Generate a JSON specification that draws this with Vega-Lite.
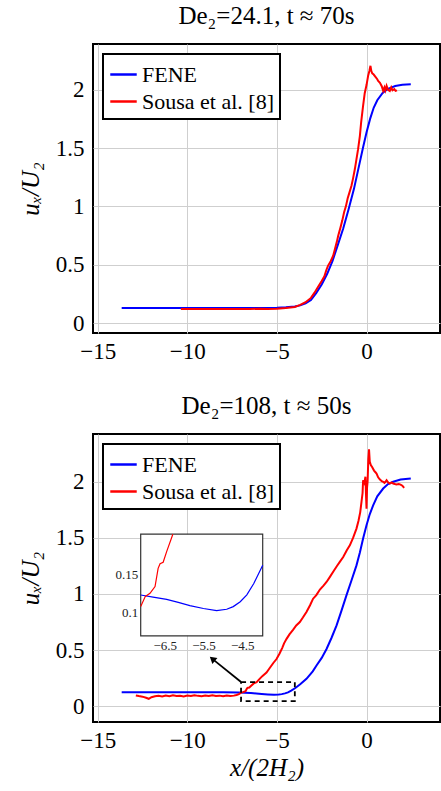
{
  "$schema": "https://vega.github.io/schema/vega-lite/v6.json",
  "background": "white",
  "padding": {"left": 17, "top": 3, "right": 0, "bottom": 0},
  "datasets": {
    "top": [
      {"x": -13.66, "y": 0.128, "series": "FENE"},
      {"x": -12, "y": 0.128, "series": "FENE"},
      {"x": -10, "y": 0.128, "series": "FENE"},
      {"x": -8, "y": 0.128, "series": "FENE"},
      {"x": -6, "y": 0.129, "series": "FENE"},
      {"x": -5, "y": 0.131, "series": "FENE"},
      {"x": -4.5, "y": 0.135, "series": "FENE"},
      {"x": -4, "y": 0.142, "series": "FENE"},
      {"x": -3.7, "y": 0.151, "series": "FENE"},
      {"x": -3.4, "y": 0.168, "series": "FENE"},
      {"x": -3.1, "y": 0.197, "series": "FENE"},
      {"x": -2.8, "y": 0.258, "series": "FENE"},
      {"x": -2.5, "y": 0.33, "series": "FENE"},
      {"x": -2.2, "y": 0.42, "series": "FENE"},
      {"x": -1.9, "y": 0.53, "series": "FENE"},
      {"x": -1.6, "y": 0.67, "series": "FENE"},
      {"x": -1.3, "y": 0.81, "series": "FENE"},
      {"x": -1.0, "y": 0.975, "series": "FENE"},
      {"x": -0.7, "y": 1.15, "series": "FENE"},
      {"x": -0.4, "y": 1.36, "series": "FENE"},
      {"x": -0.2, "y": 1.5, "series": "FENE"},
      {"x": 0, "y": 1.634, "series": "FENE"},
      {"x": 0.2, "y": 1.75, "series": "FENE"},
      {"x": 0.4, "y": 1.845, "series": "FENE"},
      {"x": 0.6, "y": 1.91, "series": "FENE"},
      {"x": 0.9, "y": 1.973, "series": "FENE"},
      {"x": 1.2, "y": 2.008, "series": "FENE"},
      {"x": 1.6, "y": 2.032, "series": "FENE"},
      {"x": 2.0, "y": 2.042, "series": "FENE"},
      {"x": 2.47, "y": 2.046, "series": "FENE"},
      {"x": -10.36, "y": 0.12, "series": "Sousa et al. [8]"},
      {"x": -10, "y": 0.121, "series": "Sousa et al. [8]"},
      {"x": -9.5, "y": 0.119, "series": "Sousa et al. [8]"},
      {"x": -9, "y": 0.12, "series": "Sousa et al. [8]"},
      {"x": -8.5, "y": 0.121, "series": "Sousa et al. [8]"},
      {"x": -8, "y": 0.119, "series": "Sousa et al. [8]"},
      {"x": -7.5, "y": 0.12, "series": "Sousa et al. [8]"},
      {"x": -7, "y": 0.121, "series": "Sousa et al. [8]"},
      {"x": -6.5, "y": 0.12, "series": "Sousa et al. [8]"},
      {"x": -6, "y": 0.122, "series": "Sousa et al. [8]"},
      {"x": -5.5, "y": 0.121, "series": "Sousa et al. [8]"},
      {"x": -5, "y": 0.123, "series": "Sousa et al. [8]"},
      {"x": -4.5, "y": 0.128, "series": "Sousa et al. [8]"},
      {"x": -4, "y": 0.138, "series": "Sousa et al. [8]"},
      {"x": -3.7, "y": 0.155, "series": "Sousa et al. [8]"},
      {"x": -3.4, "y": 0.178, "series": "Sousa et al. [8]"},
      {"x": -3.1, "y": 0.215, "series": "Sousa et al. [8]"},
      {"x": -2.9, "y": 0.26, "series": "Sousa et al. [8]"},
      {"x": -2.7, "y": 0.31, "series": "Sousa et al. [8]"},
      {"x": -2.5, "y": 0.36, "series": "Sousa et al. [8]"},
      {"x": -2.35, "y": 0.4, "series": "Sousa et al. [8]"},
      {"x": -2.25, "y": 0.45, "series": "Sousa et al. [8]"},
      {"x": -2.15, "y": 0.49, "series": "Sousa et al. [8]"},
      {"x": -2.0, "y": 0.53, "series": "Sousa et al. [8]"},
      {"x": -1.86, "y": 0.577, "series": "Sousa et al. [8]"},
      {"x": -1.75, "y": 0.64, "series": "Sousa et al. [8]"},
      {"x": -1.65, "y": 0.7, "series": "Sousa et al. [8]"},
      {"x": -1.58, "y": 0.748, "series": "Sousa et al. [8]"},
      {"x": -1.45, "y": 0.82, "series": "Sousa et al. [8]"},
      {"x": -1.35, "y": 0.88, "series": "Sousa et al. [8]"},
      {"x": -1.25, "y": 0.95, "series": "Sousa et al. [8]"},
      {"x": -1.15, "y": 1.0, "series": "Sousa et al. [8]"},
      {"x": -1.05, "y": 1.07, "series": "Sousa et al. [8]"},
      {"x": -0.95, "y": 1.12, "series": "Sousa et al. [8]"},
      {"x": -0.84, "y": 1.177, "series": "Sousa et al. [8]"},
      {"x": -0.75, "y": 1.24, "series": "Sousa et al. [8]"},
      {"x": -0.65, "y": 1.32, "series": "Sousa et al. [8]"},
      {"x": -0.56, "y": 1.405, "series": "Sousa et al. [8]"},
      {"x": -0.47, "y": 1.49, "series": "Sousa et al. [8]"},
      {"x": -0.37, "y": 1.605, "series": "Sousa et al. [8]"},
      {"x": -0.3, "y": 1.72, "series": "Sousa et al. [8]"},
      {"x": -0.2, "y": 1.85, "series": "Sousa et al. [8]"},
      {"x": -0.1, "y": 1.97, "series": "Sousa et al. [8]"},
      {"x": 0.0, "y": 2.04, "series": "Sousa et al. [8]"},
      {"x": 0.09, "y": 2.12, "series": "Sousa et al. [8]"},
      {"x": 0.16, "y": 2.16, "series": "Sousa et al. [8]"},
      {"x": 0.22, "y": 2.205, "series": "Sousa et al. [8]"},
      {"x": 0.27, "y": 2.16, "series": "Sousa et al. [8]"},
      {"x": 0.32, "y": 2.14, "series": "Sousa et al. [8]"},
      {"x": 0.4, "y": 2.13, "series": "Sousa et al. [8]"},
      {"x": 0.5, "y": 2.11, "series": "Sousa et al. [8]"},
      {"x": 0.6, "y": 2.09, "series": "Sousa et al. [8]"},
      {"x": 0.65, "y": 2.076, "series": "Sousa et al. [8]"},
      {"x": 0.75, "y": 2.06, "series": "Sousa et al. [8]"},
      {"x": 0.85, "y": 2.03, "series": "Sousa et al. [8]"},
      {"x": 0.93, "y": 1.99, "series": "Sousa et al. [8]"},
      {"x": 1.0, "y": 2.02, "series": "Sousa et al. [8]"},
      {"x": 1.05, "y": 1.995, "series": "Sousa et al. [8]"},
      {"x": 1.12, "y": 2.034, "series": "Sousa et al. [8]"},
      {"x": 1.2, "y": 2.0, "series": "Sousa et al. [8]"},
      {"x": 1.3, "y": 1.99, "series": "Sousa et al. [8]"},
      {"x": 1.38, "y": 2.02, "series": "Sousa et al. [8]"},
      {"x": 1.45, "y": 1.995, "series": "Sousa et al. [8]"},
      {"x": 1.55, "y": 2.005, "series": "Sousa et al. [8]"},
      {"x": 1.62, "y": 1.99, "series": "Sousa et al. [8]"},
      {"x": 1.7, "y": 1.995, "series": "Sousa et al. [8]"}
    ],
    "bottom": [
      {"x": -13.66, "y": 0.124, "series": "FENE"},
      {"x": -12, "y": 0.124, "series": "FENE"},
      {"x": -10, "y": 0.124, "series": "FENE"},
      {"x": -8, "y": 0.1235, "series": "FENE"},
      {"x": -7.12, "y": 0.1228, "series": "FENE"},
      {"x": -6.8, "y": 0.120, "series": "FENE"},
      {"x": -6.45, "y": 0.117, "series": "FENE"},
      {"x": -6.15, "y": 0.113, "series": "FENE"},
      {"x": -5.85, "y": 0.1088, "series": "FENE"},
      {"x": -5.5, "y": 0.105, "series": "FENE"},
      {"x": -5.16, "y": 0.1022, "series": "FENE"},
      {"x": -4.9, "y": 0.104, "series": "FENE"},
      {"x": -4.73, "y": 0.1075, "series": "FENE"},
      {"x": -4.55, "y": 0.114, "series": "FENE"},
      {"x": -4.38, "y": 0.123, "series": "FENE"},
      {"x": -4.2, "y": 0.138, "series": "FENE"},
      {"x": -3.97, "y": 0.162, "series": "FENE"},
      {"x": -3.7, "y": 0.195, "series": "FENE"},
      {"x": -3.35, "y": 0.244, "series": "FENE"},
      {"x": -3.0, "y": 0.31, "series": "FENE"},
      {"x": -2.79, "y": 0.363, "series": "FENE"},
      {"x": -2.5, "y": 0.43, "series": "FENE"},
      {"x": -2.23, "y": 0.51, "series": "FENE"},
      {"x": -1.95, "y": 0.61, "series": "FENE"},
      {"x": -1.67, "y": 0.72, "series": "FENE"},
      {"x": -1.4, "y": 0.85, "series": "FENE"},
      {"x": -1.12, "y": 0.988, "series": "FENE"},
      {"x": -0.84, "y": 1.12, "series": "FENE"},
      {"x": -0.56, "y": 1.255, "series": "FENE"},
      {"x": -0.37, "y": 1.37, "series": "FENE"},
      {"x": -0.19, "y": 1.494, "series": "FENE"},
      {"x": 0, "y": 1.613, "series": "FENE"},
      {"x": 0.18, "y": 1.71, "series": "FENE"},
      {"x": 0.37, "y": 1.79, "series": "FENE"},
      {"x": 0.6, "y": 1.87, "series": "FENE"},
      {"x": 0.93, "y": 1.94, "series": "FENE"},
      {"x": 1.2, "y": 1.98, "series": "FENE"},
      {"x": 1.49, "y": 2.0, "series": "FENE"},
      {"x": 1.9, "y": 2.02, "series": "FENE"},
      {"x": 2.47, "y": 2.03, "series": "FENE"},
      {"x": -12.87, "y": 0.095, "series": "Sousa et al. [8]"},
      {"x": -12.7, "y": 0.09, "series": "Sousa et al. [8]"},
      {"x": -12.5, "y": 0.085, "series": "Sousa et al. [8]"},
      {"x": -12.3, "y": 0.075, "series": "Sousa et al. [8]"},
      {"x": -12.15, "y": 0.066, "series": "Sousa et al. [8]"},
      {"x": -12.0, "y": 0.08, "series": "Sousa et al. [8]"},
      {"x": -11.8, "y": 0.088, "series": "Sousa et al. [8]"},
      {"x": -11.6, "y": 0.092, "series": "Sousa et al. [8]"},
      {"x": -11.4, "y": 0.086, "series": "Sousa et al. [8]"},
      {"x": -11.2, "y": 0.094, "series": "Sousa et al. [8]"},
      {"x": -11.0, "y": 0.089, "series": "Sousa et al. [8]"},
      {"x": -10.8, "y": 0.097, "series": "Sousa et al. [8]"},
      {"x": -10.6, "y": 0.09, "series": "Sousa et al. [8]"},
      {"x": -10.4, "y": 0.093, "series": "Sousa et al. [8]"},
      {"x": -10.2, "y": 0.087, "series": "Sousa et al. [8]"},
      {"x": -10.0, "y": 0.095, "series": "Sousa et al. [8]"},
      {"x": -9.8, "y": 0.09, "series": "Sousa et al. [8]"},
      {"x": -9.6, "y": 0.098, "series": "Sousa et al. [8]"},
      {"x": -9.4, "y": 0.092, "series": "Sousa et al. [8]"},
      {"x": -9.2, "y": 0.088, "series": "Sousa et al. [8]"},
      {"x": -9.0, "y": 0.095, "series": "Sousa et al. [8]"},
      {"x": -8.8, "y": 0.09, "series": "Sousa et al. [8]"},
      {"x": -8.6, "y": 0.097, "series": "Sousa et al. [8]"},
      {"x": -8.4, "y": 0.091, "series": "Sousa et al. [8]"},
      {"x": -8.2, "y": 0.094, "series": "Sousa et al. [8]"},
      {"x": -8.0, "y": 0.088, "series": "Sousa et al. [8]"},
      {"x": -7.8, "y": 0.096, "series": "Sousa et al. [8]"},
      {"x": -7.6, "y": 0.09, "series": "Sousa et al. [8]"},
      {"x": -7.4, "y": 0.094, "series": "Sousa et al. [8]"},
      {"x": -7.25, "y": 0.1, "series": "Sousa et al. [8]"},
      {"x": -7.12, "y": 0.1075, "series": "Sousa et al. [8]"},
      {"x": -7.0, "y": 0.121, "series": "Sousa et al. [8]"},
      {"x": -6.88, "y": 0.125, "series": "Sousa et al. [8]"},
      {"x": -6.75, "y": 0.134, "series": "Sousa et al. [8]"},
      {"x": -6.67, "y": 0.158, "series": "Sousa et al. [8]"},
      {"x": -6.62, "y": 0.164, "series": "Sousa et al. [8]"},
      {"x": -6.54, "y": 0.166, "series": "Sousa et al. [8]"},
      {"x": -6.45, "y": 0.18, "series": "Sousa et al. [8]"},
      {"x": -6.29, "y": 0.203, "series": "Sousa et al. [8]"},
      {"x": -6.13, "y": 0.214, "series": "Sousa et al. [8]"},
      {"x": -5.95, "y": 0.245, "series": "Sousa et al. [8]"},
      {"x": -5.8, "y": 0.27, "series": "Sousa et al. [8]"},
      {"x": -5.58, "y": 0.3, "series": "Sousa et al. [8]"},
      {"x": -5.4, "y": 0.34, "series": "Sousa et al. [8]"},
      {"x": -5.2, "y": 0.385, "series": "Sousa et al. [8]"},
      {"x": -5.02, "y": 0.42, "series": "Sousa et al. [8]"},
      {"x": -4.85, "y": 0.47, "series": "Sousa et al. [8]"},
      {"x": -4.7, "y": 0.52, "series": "Sousa et al. [8]"},
      {"x": -4.6, "y": 0.56, "series": "Sousa et al. [8]"},
      {"x": -4.46, "y": 0.6, "series": "Sousa et al. [8]"},
      {"x": -4.3, "y": 0.64, "series": "Sousa et al. [8]"},
      {"x": -4.1, "y": 0.68, "series": "Sousa et al. [8]"},
      {"x": -3.92, "y": 0.72, "series": "Sousa et al. [8]"},
      {"x": -3.72, "y": 0.75, "series": "Sousa et al. [8]"},
      {"x": -3.55, "y": 0.79, "series": "Sousa et al. [8]"},
      {"x": -3.35, "y": 0.84, "series": "Sousa et al. [8]"},
      {"x": -3.15, "y": 0.9, "series": "Sousa et al. [8]"},
      {"x": -2.98, "y": 0.958, "series": "Sousa et al. [8]"},
      {"x": -2.8, "y": 0.99, "series": "Sousa et al. [8]"},
      {"x": -2.6, "y": 1.04, "series": "Sousa et al. [8]"},
      {"x": -2.4, "y": 1.075, "series": "Sousa et al. [8]"},
      {"x": -2.23, "y": 1.107, "series": "Sousa et al. [8]"},
      {"x": -2.05, "y": 1.15, "series": "Sousa et al. [8]"},
      {"x": -1.85, "y": 1.2, "series": "Sousa et al. [8]"},
      {"x": -1.65, "y": 1.25, "series": "Sousa et al. [8]"},
      {"x": -1.49, "y": 1.286, "series": "Sousa et al. [8]"},
      {"x": -1.3, "y": 1.33, "series": "Sousa et al. [8]"},
      {"x": -1.1, "y": 1.39, "series": "Sousa et al. [8]"},
      {"x": -0.93, "y": 1.434, "series": "Sousa et al. [8]"},
      {"x": -0.75, "y": 1.5, "series": "Sousa et al. [8]"},
      {"x": -0.56, "y": 1.583, "series": "Sousa et al. [8]"},
      {"x": -0.45, "y": 1.65, "series": "Sousa et al. [8]"},
      {"x": -0.35, "y": 1.73, "series": "Sousa et al. [8]"},
      {"x": -0.28, "y": 1.821, "series": "Sousa et al. [8]"},
      {"x": -0.22, "y": 1.9, "series": "Sousa et al. [8]"},
      {"x": -0.19, "y": 2.014, "series": "Sousa et al. [8]"},
      {"x": -0.12, "y": 1.99, "series": "Sousa et al. [8]"},
      {"x": -0.06, "y": 2.045, "series": "Sousa et al. [8]"},
      {"x": -0.02, "y": 1.85, "series": "Sousa et al. [8]"},
      {"x": 0.0, "y": 1.76, "series": "Sousa et al. [8]"},
      {"x": 0.03, "y": 1.95, "series": "Sousa et al. [8]"},
      {"x": 0.06, "y": 2.0, "series": "Sousa et al. [8]"},
      {"x": 0.1, "y": 2.2, "series": "Sousa et al. [8]"},
      {"x": 0.14, "y": 2.29, "series": "Sousa et al. [8]"},
      {"x": 0.18, "y": 2.18, "series": "Sousa et al. [8]"},
      {"x": 0.24, "y": 2.15, "series": "Sousa et al. [8]"},
      {"x": 0.32, "y": 2.13, "series": "Sousa et al. [8]"},
      {"x": 0.42, "y": 2.1, "series": "Sousa et al. [8]"},
      {"x": 0.5, "y": 2.085, "series": "Sousa et al. [8]"},
      {"x": 0.56, "y": 2.074, "series": "Sousa et al. [8]"},
      {"x": 0.65, "y": 2.04, "series": "Sousa et al. [8]"},
      {"x": 0.75, "y": 2.02, "series": "Sousa et al. [8]"},
      {"x": 0.85, "y": 2.005, "series": "Sousa et al. [8]"},
      {"x": 0.93, "y": 2.0, "series": "Sousa et al. [8]"},
      {"x": 1.0, "y": 1.99, "series": "Sousa et al. [8]"},
      {"x": 1.06, "y": 2.0, "series": "Sousa et al. [8]"},
      {"x": 1.12, "y": 2.014, "series": "Sousa et al. [8]"},
      {"x": 1.2, "y": 1.995, "series": "Sousa et al. [8]"},
      {"x": 1.3, "y": 1.985, "series": "Sousa et al. [8]"},
      {"x": 1.4, "y": 1.995, "series": "Sousa et al. [8]"},
      {"x": 1.49, "y": 1.985, "series": "Sousa et al. [8]"},
      {"x": 1.58, "y": 1.98, "series": "Sousa et al. [8]"},
      {"x": 1.67, "y": 1.976, "series": "Sousa et al. [8]"},
      {"x": 1.8, "y": 1.98, "series": "Sousa et al. [8]"},
      {"x": 1.9, "y": 1.975, "series": "Sousa et al. [8]"},
      {"x": 2.0, "y": 1.965, "series": "Sousa et al. [8]"},
      {"x": 2.1, "y": 1.946, "series": "Sousa et al. [8]"}
    ]
  },
  "config": {
    "font": "Liberation Serif",
    "view": {"stroke": "black", "strokeWidth": 2},
    "axis": {
      "domain": false, "ticks": false, "grid": true, "gridColor": "#cfcfcf", "gridWidth": 1,
      "labelFont": "Liberation Serif", "labelFontSize": 23, "labelColor": "black", "labelPadding": 9,
      "titleFont": "Liberation Serif", "titleFontSize": 25, "titleFontWeight": "normal", "titleColor": "black", "titleFontStyle": "italic"
    },
    "axisX": {"labelPadding": 7},
    "title": {"font": "Liberation Serif", "fontSize": 25, "fontWeight": "normal", "color": "black", "offset": 15},
    "legend": {
      "orient": "top-left", "offset": 10, "fillColor": "white", "strokeColor": "black", "strokeWidth": 2,
      "padding": 6, "symbolType": "stroke", "symbolSize": 700, "symbolStrokeWidth": 2.5,
      "labelFont": "Liberation Serif", "labelFontSize": 22, "labelColor": "black", "labelOffset": 4, "rowPadding": 1, "cornerRadius": 0
    }
  },
  "spacing": 29,
  "resolve": {"scale": {"color": "independent"}, "legend": {"color": "independent"}},
  "vconcat": [
    {
      "width": 347, "height": 289,
      "title": {"text": "De₂=24.1, t ≈ 70s"},
      "data": {"name": "top"},
      "mark": {"type": "line", "strokeWidth": 2},
      "encoding": {
        "x": {"field": "x", "type": "quantitative", "scale": {"domain": [-15.26, 4.1], "nice": false, "zero": false}, "axis": {"values": [-15, -10, -5, 0], "title": null}},
        "y": {"field": "y", "type": "quantitative", "scale": {"domain": [-0.0857, 2.392], "nice": false, "zero": false}, "axis": {"values": [0, 0.5, 1, 1.5, 2], "format": "~g", "title": "uₓ/U₂", "titlePadding": 12}},
        "color": {"field": "series", "type": "nominal", "scale": {"domain": ["FENE", "Sousa et al. [8]"], "range": ["#0000ff", "#ff0000"]}, "legend": {"title": null}}
      }
    },
    {
      "width": 347, "height": 288,
      "title": {"text": "De₂=108, t ≈ 50s"},
      "resolve": {"scale": {"x": "independent", "y": "independent"}, "axis": {"x": "independent", "y": "independent"}},
      "layer": [
        {
          "layer": [
            {
              "data": {"name": "bottom"},
              "mark": {"type": "line", "strokeWidth": 2},
              "encoding": {
                "x": {"field": "x", "type": "quantitative", "scale": {"domain": [-15.26, 4.1], "nice": false, "zero": false}, "axis": {"values": [-15, -10, -5, 0], "title": "x/(2H₂)", "titlePadding": 3}},
                "y": {"field": "y", "type": "quantitative", "scale": {"domain": [-0.141, 2.426], "nice": false, "zero": false}, "axis": {"values": [0, 0.5, 1, 1.5, 2], "format": "~g", "title": "uₓ/U₂", "titlePadding": 12}},
                "color": {"field": "series", "type": "nominal", "scale": {"domain": ["FENE", "Sousa et al. [8]"], "range": ["#0000ff", "#ff0000"]}, "legend": {"title": null}}
              }
            },
            {
              "data": {"values": [{}]},
              "mark": {"type": "rect", "fill": "transparent", "stroke": "black", "strokeWidth": 1.8, "strokeDash": [5, 4]},
              "encoding": {
                "x": {"datum": -7.0, "type": "quantitative", "axis": {"values": [-15, -10, -5, 0], "title": "x/(2H₂)", "titlePadding": 3}},
                "x2": {"datum": -4.0},
                "y": {"datum": 0.045, "type": "quantitative", "axis": {"values": [0, 0.5, 1, 1.5, 2], "format": "~g", "title": "uₓ/U₂", "titlePadding": 12}},
                "y2": {"datum": 0.215}
              }
            },
            {
              "data": {"values": [{}]},
              "mark": {"type": "rule", "stroke": "black", "strokeWidth": 1.8},
              "encoding": {
                "x": {"datum": -7.0, "type": "quantitative", "axis": {"values": [-15, -10, -5, 0], "title": "x/(2H₂)", "titlePadding": 3}},
                "x2": {"datum": -8.55},
                "y": {"datum": 0.215, "type": "quantitative", "axis": {"values": [0, 0.5, 1, 1.5, 2], "format": "~g", "title": "uₓ/U₂", "titlePadding": 12}},
                "y2": {"datum": 0.415}
              }
            },
            {
              "data": {"values": [{}]},
              "mark": {"type": "point", "shape": "triangle-up", "filled": true, "color": "black", "size": 60, "angle": 311, "opacity": 1},
              "encoding": {
                "x": {"datum": -8.6, "type": "quantitative", "axis": {"values": [-15, -10, -5, 0], "title": "x/(2H₂)", "titlePadding": 3}},
                "y": {"datum": 0.422, "type": "quantitative", "axis": {"values": [0, 0.5, 1, 1.5, 2], "format": "~g", "title": "uₓ/U₂", "titlePadding": 12}}
              }
            }
          ]
        },
        {
          "layer": [
            {
              "data": {"values": [{}]},
              "mark": {"type": "rect", "fill": "white", "stroke": "#333333", "strokeWidth": 1.2},
              "encoding": {
                "x": {"datum": -7.12, "type": "quantitative", "scale": {"domain": [-7.12, -3.97], "range": [47.7, 169.7], "nice": false, "zero": false},
                      "axis": {"orient": "bottom", "offset": -86, "values": [-6.5, -5.5, -4.5], "format": "~g", "grid": false, "title": null, "labelFontSize": 13, "labelPadding": 3, "labelColor": "#222222"}},
                "x2": {"datum": -3.97},
                "y": {"datum": 0.069, "type": "quantitative", "scale": {"domain": [0.069, 0.203], "range": [201.8, 100.2], "nice": false, "zero": false},
                      "axis": {"orient": "left", "offset": -47.7, "values": [0.1, 0.15], "format": "~g", "grid": false, "title": null, "labelFontSize": 13, "labelPadding": 3, "labelColor": "#222222"}},
                "y2": {"datum": 0.203}
              }
            },
            {
              "data": {"name": "bottom"},
              "transform": [{"filter": {"and": [{"field": "series", "equal": "FENE"}, {"field": "x", "range": [-7.12, -3.97]}]}}],
              "mark": {"type": "line", "strokeWidth": 1.2, "color": "#0000ff"},
              "encoding": {
                "x": {"field": "x", "type": "quantitative"},
                "y": {"field": "y", "type": "quantitative"}
              }
            },
            {
              "data": {"name": "bottom"},
              "transform": [{"filter": {"and": [{"field": "series", "equal": "Sousa et al. [8]"}, {"field": "x", "range": [-7.12, -6.29]}]}}],
              "mark": {"type": "line", "strokeWidth": 1.2, "color": "#ff0000"},
              "encoding": {
                "x": {"field": "x", "type": "quantitative"},
                "y": {"field": "y", "type": "quantitative"}
              }
            }
          ]
        }
      ]
    }
  ]
}
